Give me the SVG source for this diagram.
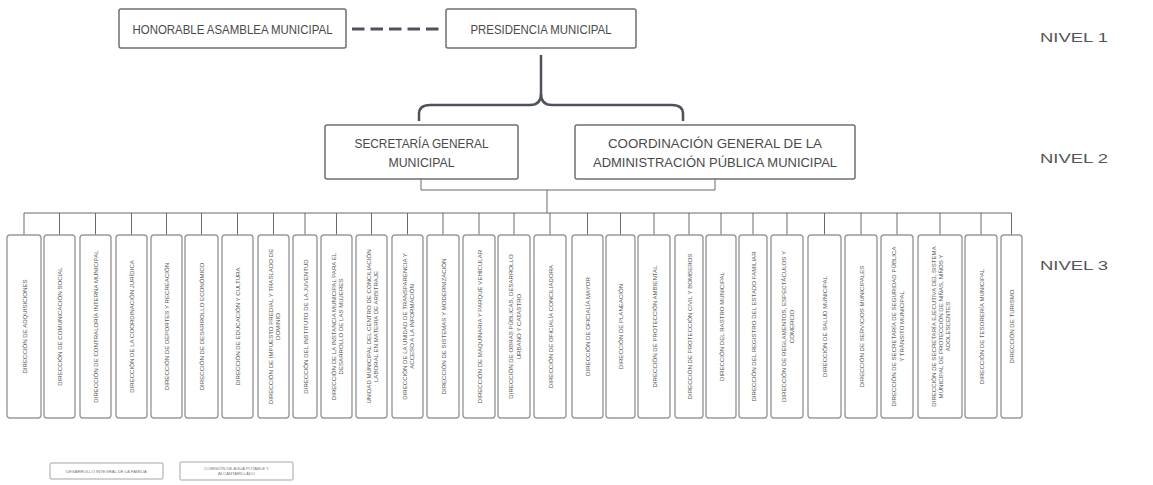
<svg xmlns="http://www.w3.org/2000/svg" width="1153" height="485" viewBox="0 0 1153 485">
<style>
.bg{fill:#ffffff}
.box{fill:#ffffff;stroke:#6f6f6f;stroke-width:1.5}
.sbox{fill:#ffffff;stroke:#9a9a9a;stroke-width:1.4}
.lbox{fill:#ffffff;stroke:#a5a5a5;stroke-width:1}
.t{font-family:"Liberation Sans",Arial,sans-serif;fill:#4a4a4a}
.big{font-size:13px}
.lvl{font-size:13.5px;fill:#555555}
.rt{font-size:6.1px;fill:#5a5a5a;text-anchor:middle;dominant-baseline:central}
.leg{font-size:4.2px;fill:#777777;text-anchor:middle}
.conn{fill:none;stroke:#6a6a6a;stroke-width:1}
.brace{fill:none;stroke:#4d535a;stroke-width:2.5;stroke-linejoin:round}
.dash{fill:none;stroke:#4d535a;stroke-width:3;stroke-dasharray:12.5 6}
</style>
<rect class="bg" x="0" y="0" width="1153" height="485"/>

<g id="connectors">
  <line class="dash" x1="352" y1="29" x2="439" y2="29"/>
  <path class="brace" d="M541,55 V94 Q541,105 530,105 H430 Q419,105 419,114 V121"/>
  <path class="brace" d="M541,94 Q541,105 552,105 H672 Q683,105 683,114 V121"/>
  <path class="conn" d="M421,179 V190 H715 V179"/>
  <path class="conn" d="M547,190 V213"/>
  <path class="conn" d="M24,213 H1011.5"/>
  <path class="conn" d="M24,213V235 M59.5,213V235 M95.5,213V235 M131.5,213V235 M166.5,213V235 M201.5,213V235 M237.5,213V235 M273.5,213V235 M305,213V235 M336.5,213V235 M371.5,213V235 M407.5,213V235 M443,213V235 M479,213V235 M514,213V235 M550,213V235 M587.5,213V235 M620.5,213V235 M654,213V235 M689,213V235 M721,213V235 M753,213V235 M787,213V235 M824.5,213V235 M861,213V235 M897,213V235 M940,213V235 M981,213V235 M1011.5,213V235"/>
</g>

<g id="n-honorable">
  <rect class="box" x="119" y="9" width="227" height="39" rx="2"/>
  <text class="t big" x="232.5" y="34" text-anchor="middle" textLength="200" lengthAdjust="spacingAndGlyphs">HONORABLE ASAMBLEA MUNICIPAL</text>
</g>
<g id="n-presidencia">
  <rect class="box" x="446" y="9" width="190" height="39" rx="2"/>
  <text class="t big" x="541" y="34" text-anchor="middle" textLength="141" lengthAdjust="spacingAndGlyphs">PRESIDENCIA MUNICIPAL</text>
</g>
<g id="n-secretaria">
  <rect class="box" x="325" y="125" width="193" height="54" rx="2"/>
  <text class="t big" x="421.5" y="148" text-anchor="middle" textLength="134" lengthAdjust="spacingAndGlyphs">SECRETARÍA GENERAL</text>
  <text class="t big" x="421.5" y="167" text-anchor="middle" textLength="66" lengthAdjust="spacingAndGlyphs">MUNICIPAL</text>
</g>
<g id="n-coordinacion">
  <rect class="box" x="575" y="125" width="280" height="54" rx="2"/>
  <text class="t big" x="715" y="148" text-anchor="middle" textLength="214" lengthAdjust="spacingAndGlyphs">COORDINACIÓN GENERAL DE LA</text>
  <text class="t big" x="715" y="167" text-anchor="middle" textLength="244" lengthAdjust="spacingAndGlyphs">ADMINISTRACIÓN PÚBLICA MUNICIPAL</text>
</g>

<g id="levels">
  <text class="t lvl" x="1040" y="42" textLength="68" lengthAdjust="spacingAndGlyphs">NIVEL 1</text>
  <text class="t lvl" x="1040" y="163" textLength="68" lengthAdjust="spacingAndGlyphs">NIVEL 2</text>
  <text class="t lvl" x="1040" y="270" textLength="68" lengthAdjust="spacingAndGlyphs">NIVEL 3</text>
</g>

<g id="n3-01"><rect class="sbox" x="7" y="235" width="34" height="183" rx="3"/><text class="t rt" transform="translate(24,326.5) rotate(-90)">DIRECCIÓN DE ADQUISICIONES</text></g>
<g id="n3-02"><rect class="sbox" x="44" y="235" width="31" height="183" rx="3"/><text class="t rt" transform="translate(59.5,326.5) rotate(-90)">DIRECCIÓN DE COMUNICACIÓN SOCIAL</text></g>
<g id="n3-03"><rect class="sbox" x="80" y="235" width="31" height="183" rx="3"/><text class="t rt" transform="translate(95.5,326.5) rotate(-90)">DIRECCIÓN DE CONTRALORÍA INTERNA MUNICIPAL</text></g>
<g id="n3-04"><rect class="sbox" x="116" y="235" width="31" height="183" rx="3"/><text class="t rt" transform="translate(131.5,326.5) rotate(-90)">DIRECCIÓN DE LA COORDINACIÓN JURÍDICA</text></g>
<g id="n3-05"><rect class="sbox" x="151" y="235" width="31" height="183" rx="3"/><text class="t rt" transform="translate(166.5,326.5) rotate(-90)">DIRECCIÓN DE DEPORTES Y RECREACIÓN</text></g>
<g id="n3-06"><rect class="sbox" x="185" y="235" width="33" height="183" rx="3"/><text class="t rt" transform="translate(201.5,326.5) rotate(-90)">DIRECCIÓN DE DESARROLLO ECONÓMICO</text></g>
<g id="n3-07"><rect class="sbox" x="222" y="235" width="31" height="183" rx="3"/><text class="t rt" transform="translate(237.5,326.5) rotate(-90)">DIRECCIÓN DE EDUCACIÓN Y CULTURA</text></g>
<g id="n3-08"><rect class="sbox" x="258" y="235" width="31" height="183" rx="3"/><text class="t rt" transform="translate(273.5,326.5) rotate(-90)"><tspan x="0" y="-3.6">DIRECCIÓN DE IMPUESTO PREDIAL Y TRASLADO DE</tspan><tspan x="0" y="3.6">DOMINIO</tspan></text></g>
<g id="n3-09"><rect class="sbox" x="293" y="235" width="24" height="183" rx="3"/><text class="t rt" transform="translate(305,326.5) rotate(-90)">DIRECCIÓN DEL INSTITUTO DE LA JUVENTUD</text></g>
<g id="n3-10"><rect class="sbox" x="321" y="235" width="31" height="183" rx="3"/><text class="t rt" transform="translate(336.5,326.5) rotate(-90)"><tspan x="0" y="-3.6">DIRECCIÓN DE LA INSTANCIA MUNICIPAL PARA EL</tspan><tspan x="0" y="3.6">DESARROLLO DE LAS MUJERES</tspan></text></g>
<g id="n3-11"><rect class="sbox" x="356" y="235" width="31" height="183" rx="3"/><text class="t rt" transform="translate(371.5,326.5) rotate(-90)"><tspan x="0" y="-3.6">UNIDAD MUNICIPAL DEL CENTRO DE CONCILIACIÓN</tspan><tspan x="0" y="3.6">LABORAL EN MATERIA DE ARBITRAJE</tspan></text></g>
<g id="n3-12"><rect class="sbox" x="392" y="235" width="31" height="183" rx="3"/><text class="t rt" transform="translate(407.5,326.5) rotate(-90)"><tspan x="0" y="-3.6">DIRECCIÓN DE LA UNIDAD DE TRANSPARENCIA Y</tspan><tspan x="0" y="3.6">ACCESO A LA INFORMACIÓN</tspan></text></g>
<g id="n3-13"><rect class="sbox" x="427" y="235" width="32" height="183" rx="3"/><text class="t rt" transform="translate(443,326.5) rotate(-90)">DIRECCIÓN DE SISTEMAS Y MODERNIZACIÓN</text></g>
<g id="n3-14"><rect class="sbox" x="463" y="235" width="32" height="183" rx="3"/><text class="t rt" transform="translate(479,326.5) rotate(-90)">DIRECCIÓN DE MAQUINARIA Y PARQUE VEHICULAR</text></g>
<g id="n3-15"><rect class="sbox" x="498" y="235" width="32" height="183" rx="3"/><text class="t rt" transform="translate(514,326.5) rotate(-90)"><tspan x="0" y="-3.6">DIRECCIÓN DE OBRAS PÚBLICAS, DESARROLLO</tspan><tspan x="0" y="3.6">URBANO Y CATASTRO</tspan></text></g>
<g id="n3-16"><rect class="sbox" x="534" y="235" width="32" height="183" rx="3"/><text class="t rt" transform="translate(550,326.5) rotate(-90)">DIRECCIÓN DE OFICIALÍA CONCILIADORA</text></g>
<g id="n3-17"><rect class="sbox" x="572" y="235" width="31" height="183" rx="3"/><text class="t rt" transform="translate(587.5,326.5) rotate(-90)">DIRECCIÓN DE OFICIALÍA MAYOR</text></g>
<g id="n3-18"><rect class="sbox" x="606" y="235" width="29" height="183" rx="3"/><text class="t rt" transform="translate(620.5,326.5) rotate(-90)">DIRECCIÓN DE PLANEACIÓN</text></g>
<g id="n3-19"><rect class="sbox" x="638" y="235" width="32" height="183" rx="3"/><text class="t rt" transform="translate(654,326.5) rotate(-90)">DIRECCIÓN DE PROTECCIÓN AMBIENTAL</text></g>
<g id="n3-20"><rect class="sbox" x="675" y="235" width="28" height="183" rx="3"/><text class="t rt" transform="translate(689,326.5) rotate(-90)">DIRECCIÓN DE PROTECCIÓN CIVIL Y BOMBEROS</text></g>
<g id="n3-21"><rect class="sbox" x="706" y="235" width="30" height="183" rx="3"/><text class="t rt" transform="translate(721,326.5) rotate(-90)">DIRECCIÓN DEL RASTRO MUNICIPAL</text></g>
<g id="n3-22"><rect class="sbox" x="739" y="235" width="28" height="183" rx="3"/><text class="t rt" transform="translate(753,326.5) rotate(-90)">DIRECCIÓN DEL REGISTRO DEL ESTADO FAMILIAR</text></g>
<g id="n3-23"><rect class="sbox" x="771" y="235" width="32" height="183" rx="3"/><text class="t rt" transform="translate(787,326.5) rotate(-90)"><tspan x="0" y="-3.6">DIRECCIÓN DE REGLAMENTOS, ESPECTÁCULOS Y</tspan><tspan x="0" y="3.6">COMERCIO</tspan></text></g>
<g id="n3-24"><rect class="sbox" x="808" y="235" width="33" height="183" rx="3"/><text class="t rt" transform="translate(824.5,326.5) rotate(-90)">DIRECCIÓN DE SALUD MUNICIPAL</text></g>
<g id="n3-25"><rect class="sbox" x="845" y="235" width="32" height="183" rx="3"/><text class="t rt" transform="translate(861,326.5) rotate(-90)">DIRECCIÓN DE SERVICIOS MUNICIPALES</text></g>
<g id="n3-26"><rect class="sbox" x="881" y="235" width="32" height="183" rx="3"/><text class="t rt" transform="translate(897,326.5) rotate(-90)"><tspan x="0" y="-3.6">DIRECCIÓN DE SECRETARÍA DE SEGURIDAD PÚBLICA</tspan><tspan x="0" y="3.6">Y TRÁNSITO MUNICIPAL</tspan></text></g>
<g id="n3-27"><rect class="sbox" x="918" y="235" width="44" height="183" rx="3"/><text class="t rt" transform="translate(940,326.5) rotate(-90)"><tspan x="0" y="-7">DIRECCIÓN DE SECRETARÍA EJECUTIVA DEL SISTEMA</tspan><tspan x="0" y="0">MUNICIPAL DE PROTECCIÓN DE NIÑAS, NIÑOS Y</tspan><tspan x="0" y="7">ADOLESCENTES</tspan></text></g>
<g id="n3-28"><rect class="sbox" x="965" y="235" width="32" height="183" rx="3"/><text class="t rt" transform="translate(981,326.5) rotate(-90)">DIRECCIÓN DE TESORERÍA MUNICIPAL</text></g>
<g id="n3-29"><rect class="sbox" x="1001" y="235" width="21" height="183" rx="3"/><text class="t rt" transform="translate(1011.5,326.5) rotate(-90)">DIRECCIÓN DE TURISMO</text></g>

<g id="legend-dif">
  <rect class="lbox" x="50" y="463" width="113" height="16" rx="1"/>
  <text class="t leg" x="106.5" y="472.5">DESARROLLO INTEGRAL DE LA FAMILIA</text>
</g>
<g id="legend-agua">
  <rect class="lbox" x="180" y="462" width="113" height="18" rx="1"/>
  <text class="t leg" x="236.5" y="469.5">COMISIÓN DE AGUA POTABLE Y</text>
  <text class="t leg" x="236.5" y="475">ALCANTARILLADO</text>
</g>
</svg>
